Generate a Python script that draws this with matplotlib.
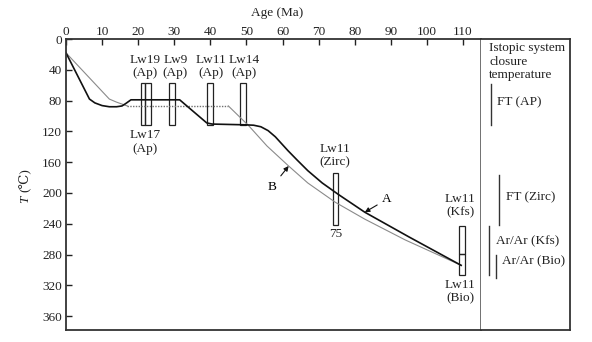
import matplotlib
matplotlib.use('Agg')
import matplotlib.pyplot as plt
from matplotlib.patches import Rectangle

plt.rcParams['font.family'] = ['Liberation Serif', 'DejaVu Serif', 'DejaVu Sans']
plt.rcParams['font.size'] = 9.5

# ---- data ----
# Path A (solid black)
age_a = [0, 6.5, 8, 10, 12, 14, 15.5, 16.5, 18, 31.5, 39, 40.5, 49.8, 52, 54, 56, 58,
         61.5, 64, 67, 71, 75.5, 82.8, 95, 109.5]
temp_a = [18, 78, 83, 86.5, 88, 88, 87, 84, 79, 79, 109, 110.5, 111.5, 112, 114, 119, 127,
          145, 157, 171, 187, 202, 225, 257, 294]
# Path B (thin grey; dotted plateau)
age_b1 = [0, 12, 14, 17]
temp_b1 = [18, 78, 82, 87]
age_b2 = [17, 45]
temp_b2 = [87, 87]
age_b3 = [45, 50.7, 55.7, 61.7, 67, 74.6, 82.8, 94, 109.5]
temp_b3 = [87, 113, 139, 165, 187, 212, 234, 261, 294]

# Sample age boxes: (age_min, age_max, T_min, T_max)
box_age_min = [20.85, 21.8, 28.65, 39.0, 48.1, 74.0, 109.0, 109.0]
box_age_max = [21.95, 23.5, 30.2, 40.6, 49.8, 75.5, 110.5, 110.5]
box_t_min = [57, 57, 57, 57, 57, 174, 243, 279]
box_t_max = [112, 112, 112, 112, 112, 242, 279, 307]

# Sample labels: (text, age, T)
label_text = ['Lw19\n(Ap)', 'Lw9\n(Ap)', 'Lw11\n(Ap)', 'Lw14\n(Ap)', 'Lw17\n(Ap)',
              'Lw11\n(Zirc)', '75', 'Lw11\n(Kfs)', 'Lw11\n(Bio)']
label_age = [21.8, 30.3, 40.1, 49.3, 21.9, 74.6, 74.6, 109.3, 109.3]
label_t = [36, 36, 36, 36, 134, 151, 253, 217, 328]

# Closure temperature ranges (right panel)
heading_lines = ['Istopic system', 'closure', 'temperature']
heading_t = [12.3, 30.5, 47.4]
closure_names = ['FT (AP)', 'FT (Zirc)', 'Ar/Ar (Kfs)', 'Ar/Ar (Bio)']
closure_line_x = [9.7, 18, 8, 14.7]
closure_t_min = [58, 177, 243, 281]
closure_t_max = [112, 242, 306, 310]
closure_text_x = [16, 25, 15, 20.7]
closure_text_t = [82, 205, 263, 289]

x_ticks = list(range(0, 111, 10))
y_ticks = list(range(0, 361, 40))

# ---- figure ----
W, H = 592, 342
fig = plt.figure(figsize=(W / 100, H / 100), dpi=100)
left, right, top, bottom = 66, 481, 39, 330
ax = fig.add_axes([left / W, 1 - bottom / H, (right - left) / W, (bottom - top) / H])
ax2 = fig.add_axes([right / W, 1 - bottom / H, (570 - right) / W, (bottom - top) / H])

ax.set_xlim(0, 115)
ax.set_ylim(378, 0)

ax.plot(age_b1, temp_b1, color='#8a8a8a', lw=0.8)
ax.plot(age_b2, temp_b2, color='#707070', lw=1.0, ls=(0, (1, 1)))
ax.plot(age_b3, temp_b3, color='#8a8a8a', lw=0.8)
ax.plot(age_a, temp_a, color='#111111', lw=1.2)

for a0, a1, t0, t1 in zip(box_age_min, box_age_max, box_t_min, box_t_max):
    ax.add_patch(Rectangle((a0, t0), a1 - a0, t1 - t0, fill=False, ec='#222222', lw=0.9))

for txt, a, t in zip(label_text, label_age, label_t):
    ax.text(a, t, txt, ha='center', va='center', linespacing=1.15, color='#222222')

ax.annotate('A', xy=(82.8, 225), xytext=(89, 208), ha='center', va='center',
            arrowprops=dict(arrowstyle='-|>', color='#111111', lw=0.8,
                            mutation_scale=7, shrinkA=2, shrinkB=0))
ax.annotate('B', xy=(61.7, 165), xytext=(57.1, 192), ha='center', va='center',
            arrowprops=dict(arrowstyle='-|>', color='#111111', lw=0.8,
                            mutation_scale=7, shrinkA=2, shrinkB=0))

ax.set_xticks(x_ticks)
ax.set_yticks(y_ticks)
ax.tick_params(axis='x', direction='in', length=4, width=1, top=True, bottom=False,
               labeltop=True, labelbottom=False, pad=1, colors='#222222')
ax.tick_params(axis='y', direction='in', length=4, width=1, left=True, right=False,
               pad=3, colors='#222222')
for s in ax.spines.values():
    s.set_linewidth(1.3)
    s.set_color('#333333')
ax.spines['right'].set_color('#666666')

# right panel
ax2.set_xlim(0, 89)
ax2.set_ylim(378, 0)
ax2.set_xticks([])
ax2.set_yticks([])
ax2.spines['left'].set_visible(False)
for k in ['top', 'right', 'bottom']:
    ax2.spines[k].set_linewidth(1.3)
    ax2.spines[k].set_color('#333333')
for line, t in zip(heading_lines, heading_t):
    ax2.text(8, t, line, ha='left', va='center', color='#222222')
for name, lx, t0, t1, tx, tt in zip(closure_names, closure_line_x, closure_t_min,
                                    closure_t_max, closure_text_x, closure_text_t):
    ax2.plot([lx, lx], [t0, t1], color='#333333', lw=1.0)
    ax2.text(tx, tt, name, ha='left', va='center', color='#222222')

fig.text(276.7 / W, 1 - 13 / H, 'Age (Ma)', ha='center', va='center', color='#222222')
fig.text(25 / W, 1 - 199 / H, 'T', ha='center', va='center', rotation=90,
         style='italic', color='#222222')
fig.text(25 / W, 1 - 180 / H, '(℃)', ha='center', va='center', rotation=90,
         color='#222222')

fig.savefig('out.png', dpi=100)
